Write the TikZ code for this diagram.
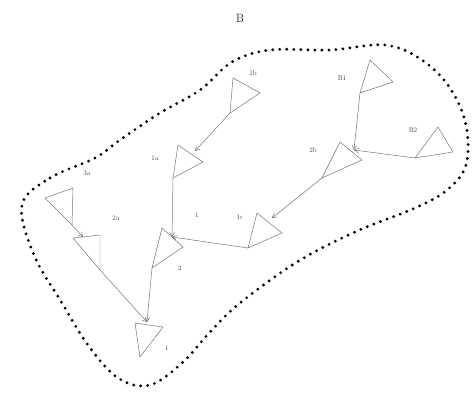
\documentclass[tikz,border=0pt]{standalone}
\usepackage{tikz}
\usetikzlibrary{arrows.meta}
\def\triangleat#1(#2)(#3)(#4){\coordinate (#1-t) at (#2); \coordinate (#1-r) at (#3); \coordinate (#1-b) at (#4); \draw[tri] (#1-t) -- (#1-r) -- (#1-b) -- cycle;}
\tikzset{
	tri/.style={line width=0.7pt, color=black!55},
	link/.style={line width=0.7pt, color=black!55, -{Straight Barb[length=6pt,width=7pt]}},
	lbl/.style={font=\fontsize{10}{10}\selectfont, color=black!75},
	dotline/.style={line width=4.5pt, dash pattern=on 0pt off 10pt, line cap=round}
}

\begin{document}
\begin{tikzpicture}[x=0.5mm, y=-0.5mm]
			%%%%% START %%%%%
			\useasboundingbox (0, 0) rectangle (476, 399);
			
			\draw[dotline] plot[smooth cycle, tension=0.6] coordinates {(22, 205) (50, 178) (95, 158) (120, 140) (160, 113) (200, 90) (232, 62) (270, 50) (330, 50) (385, 45) (422, 60) (450, 88) (466, 125) (466, 165) (447, 190) (415, 208) (355, 232) (297, 262) (240, 303) (210, 332) (183, 362) (150, 385) (118, 378) (88, 345) (62, 303) (34, 255)};
			
			\triangleat{t3a}(45, 198)(73, 188)(72, 225)
			\triangleat{t2a}(73, 238)(100, 235)(100, 270)
			\triangleat{t1b}(233, 78)(260, 93)(230, 113)
			\triangleat{t1a}(178, 145)(203, 162)(173, 178)
			\triangleat{tb1}(370, 60)(393, 82)(360, 93)
			\triangleat{tb2}(438, 127)(453, 152)(415, 158)
			\triangleat{t2b}(340, 142)(362, 160)(322, 178)
			\triangleat{t1c}(257, 213)(282, 233)(248, 248)
			\triangleat{t2}(162, 228)(183, 247)(152, 268)
			\triangleat{t1}(135, 323)(163, 327)(140, 357)
			
			\coordinate (t2a-in) at (83, 237);
			\coordinate (t1-in) at (147, 322);
			\coordinate (t2-in) at (172, 237);
			\coordinate (t1a-in) at (195, 151);
			\coordinate (t2b-in) at (354, 150);
			\coordinate (t1c-in) at (272, 218);
			
			\draw[link] (t3a-b) -- (t2a-in);
			\draw[link] (t2a-b) -- (t1-in);
			\draw[link] (t2-b) -- (t1-in);
			\draw[link] (t1a-b) -- (t2-in);
			\draw[link] (t1c-b) -- (t2-in);
			\draw[link] (t1b-b) -- (t1a-in);
			\draw[link] (tb1-b) -- (t2b-in);
			\draw[link] (tb2-b) -- (t2b-in);
			\draw[link] (t2b-b) -- (t1c-in);
			
			\node[font=\fontsize{17}{17}\selectfont] (title) at (240, 18) {B};
			\node[lbl] (l3a) at (87, 173) {3a};
			\node[lbl] (l2a) at (116, 218) {2a};
			\node[lbl] (l1a) at (155, 158) {1a};
			\node[lbl] (l1b) at (253, 73) {1b};
			\node[lbl] (lb1) at (342, 78) {B1};
			\node[lbl] (lb2) at (413, 130) {B2};
			\node[lbl] (l2b) at (313, 150) {2b};
			\node[lbl] (l1) at (197, 215) {1};
			\node[lbl] (l1c) at (240, 217) {1c};
			\node[lbl] (l2) at (180, 268) {2};
			\node[lbl] (lone) at (167, 348) {1};
			
			%%%%% END %%%%%
\end{tikzpicture}
\end{document}
